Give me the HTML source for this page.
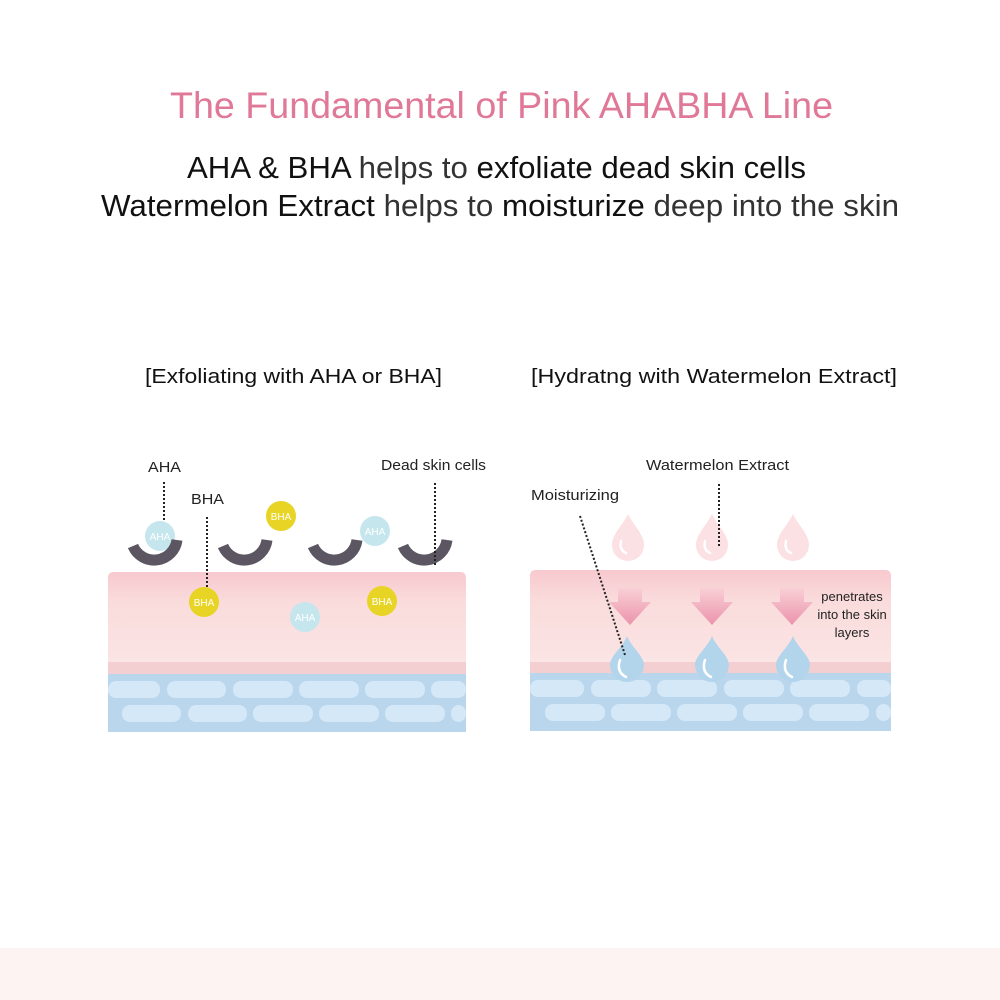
<!DOCTYPE html>
<html><head><meta charset="utf-8"><style>
html,body{margin:0;padding:0;background:#fff}
svg{display:block}
text{font-family:"Liberation Sans",sans-serif}
</style></head><body>
<svg width="1000" height="1000" viewBox="0 0 1000 1000" xmlns="http://www.w3.org/2000/svg">
<defs>
<linearGradient id="pk" x1="0" y1="0" x2="0" y2="1">
<stop offset="0" stop-color="#f7c9cf"/><stop offset="0.35" stop-color="#fadcdc"/><stop offset="1" stop-color="#fbe4e4"/>
</linearGradient>
<linearGradient id="ar" x1="0" y1="0" x2="0" y2="1">
<stop offset="0" stop-color="#f8d0d6"/><stop offset="1" stop-color="#ec93ab"/>
</linearGradient>
</defs>
<rect x="0" y="948" width="1000" height="52" fill="#fdf3f3"/>
<text x="170" y="118" font-size="37" fill="#e07898" textLength="663" lengthAdjust="spacingAndGlyphs">The Fundamental of Pink AHABHA Line</text>
<text x="187" y="178" font-size="31" fill="#111" textLength="619" lengthAdjust="spacingAndGlyphs">AHA &amp; BHA <tspan fill="#333">helps to</tspan> exfoliate dead skin cells</text>
<text x="101" y="216" font-size="31" fill="#111" textLength="798" lengthAdjust="spacingAndGlyphs">Watermelon Extract <tspan fill="#333">helps to</tspan> moisturize <tspan fill="#333">deep into the skin</tspan></text>
<text x="145" y="383" font-size="20" fill="#111" textLength="297" lengthAdjust="spacingAndGlyphs">[Exfoliating with AHA or BHA]</text>
<text x="531" y="383" font-size="20" fill="#111" textLength="366" lengthAdjust="spacingAndGlyphs">[Hydratng with Watermelon Extract]</text>

<!-- LEFT -->
<g>
<path d="M108 578 Q108 572 114 572 L460 572 Q466 572 466 578 L466 662 L108 662Z" fill="url(#pk)"/>
<rect x="108" y="662" width="358" height="12" fill="#f3cfd2"/>
<rect x="108" y="674" width="358" height="58" fill="#b9d6ec"/>
<g fill="#d5e8f7">
<rect x="108" y="681" width="52" height="17" rx="8"/><rect x="167" y="681" width="59" height="17" rx="8"/><rect x="233" y="681" width="60" height="17" rx="8"/><rect x="299" y="681" width="60" height="17" rx="8"/><rect x="365" y="681" width="60" height="17" rx="8"/><rect x="431" y="681" width="35" height="17" rx="8"/>
<rect x="122" y="705" width="59" height="17" rx="8"/><rect x="188" y="705" width="59" height="17" rx="8"/><rect x="253" y="705" width="60" height="17" rx="8"/><rect x="319" y="705" width="60" height="17" rx="8"/><rect x="385" y="705" width="60" height="17" rx="8"/><rect x="451" y="705" width="15" height="17" rx="8"/>
</g>
<circle cx="160" cy="536" r="15" fill="#c6e6ee"/>
<g fill="none" stroke="#5b5661" stroke-width="11">
<path d="M133 546 A23 23 0 0 0 177 540"/>
<path d="M223 546 A23 23 0 0 0 267 540"/>
<path d="M313 546 A23 23 0 0 0 357 540"/>
<path d="M403 546 A23 23 0 0 0 447 540"/>
</g>
<circle cx="375" cy="531" r="15" fill="#c6e6ee"/>
<circle cx="281" cy="516" r="15" fill="#e8d424"/>
<circle cx="204" cy="602" r="15" fill="#e8d424"/>
<circle cx="382" cy="601" r="15" fill="#e8d424"/>
<circle cx="305" cy="617" r="15" fill="#c6e6ee"/>
<g font-size="10" fill="#fff" text-anchor="middle">
<text x="160" y="540">AHA</text><text x="375" y="535">AHA</text><text x="305" y="621">AHA</text>
<text x="281" y="520">BHA</text><text x="204" y="606">BHA</text><text x="382" y="605">BHA</text>
</g>
<g stroke="#222" stroke-width="2" stroke-dasharray="2 2">
<line x1="164" y1="482" x2="164" y2="520"/>
<line x1="207" y1="517" x2="207" y2="588"/>
<line x1="435" y1="483" x2="435" y2="565"/>
</g>
<g font-size="15" fill="#222">
<text x="148" y="472" textLength="33" lengthAdjust="spacingAndGlyphs">AHA</text>
<text x="191" y="504" textLength="33" lengthAdjust="spacingAndGlyphs">BHA</text>
<text x="381" y="470" textLength="105" lengthAdjust="spacingAndGlyphs">Dead skin cells</text>
</g>
</g>

<!-- RIGHT -->
<g>
<path d="M530 576 Q530 570 536 570 L885 570 Q891 570 891 576 L891 662 L530 662Z" fill="url(#pk)"/>
<rect x="530" y="662" width="361" height="11" fill="#f3cfd2"/>
<rect x="530" y="673" width="361" height="58" fill="#b9d6ec"/>
<g fill="#d5e8f7">
<rect x="530" y="680" width="54" height="17" rx="8"/><rect x="591" y="680" width="60" height="17" rx="8"/><rect x="657" y="680" width="60" height="17" rx="8"/><rect x="724" y="680" width="60" height="17" rx="8"/><rect x="790" y="680" width="60" height="17" rx="8"/><rect x="857" y="680" width="34" height="17" rx="8"/>
<rect x="545" y="704" width="60" height="17" rx="8"/><rect x="611" y="704" width="60" height="17" rx="8"/><rect x="677" y="704" width="60" height="17" rx="8"/><rect x="743" y="704" width="60" height="17" rx="8"/><rect x="809" y="704" width="60" height="17" rx="8"/><rect x="876" y="704" width="15" height="17" rx="8"/>
</g>
<g fill="#fbe0e4">
<path d="M628 514 C633 525 644 534 644 545 A16 16 0 0 1 612 545 C612 534 623 525 628 514Z"/>
<path d="M712 514 C717 525 728 534 728 545 A16 16 0 0 1 696 545 C696 534 707 525 712 514Z"/>
<path d="M793 514 C798 525 809 534 809 545 A16 16 0 0 1 777 545 C777 534 788 525 793 514Z"/>
</g>
<g fill="none" stroke="#fff" stroke-width="2.5" stroke-linecap="round">
<path d="M621 541 Q619 550 626 553"/><path d="M705 541 Q703 550 710 553"/><path d="M786 541 Q784 550 791 553"/>
</g>
<g fill="url(#ar)">
<path d="M618 588 L642 588 L642 602 L651 602 L630 625 L609 602 L618 602Z"/>
<path d="M700 588 L724 588 L724 602 L733 602 L712 625 L691 602 L700 602Z"/>
<path d="M780 588 L804 588 L804 602 L813 602 L792 625 L771 602 L780 602Z"/>
</g>
<g fill="#b3d5ec">
<path d="M627 636 C632 648 644 656 644 665 A17 17 0 0 1 610 665 C610 656 622 648 627 636Z"/>
<path d="M712 636 C717 648 729 656 729 665 A17 17 0 0 1 695 665 C695 656 707 648 712 636Z"/>
<path d="M793 636 C798 648 810 656 810 665 A17 17 0 0 1 776 665 C776 656 788 648 793 636Z"/>
</g>
<g fill="none" stroke="#fff" stroke-width="2.5" stroke-linecap="round">
<path d="M620 660 Q616 672 626 677"/><path d="M705 660 Q701 672 711 677"/><path d="M786 660 Q782 672 792 677"/>
</g>
<g stroke="#222" stroke-width="2" stroke-dasharray="2 2">
<line x1="719" y1="484" x2="719" y2="547"/>
<line x1="580" y1="516" x2="625" y2="655"/>
</g>
<g font-size="15" fill="#222">
<text x="646" y="470" textLength="143" lengthAdjust="spacingAndGlyphs">Watermelon Extract</text>
<text x="531" y="500" textLength="88" lengthAdjust="spacingAndGlyphs">Moisturizing</text>
</g>
<g font-size="13" fill="#222" text-anchor="middle">
<text x="852" y="601">penetrates</text>
<text x="852" y="619">into the skin</text>
<text x="852" y="637">layers</text>
</g>
</g>
</svg>
</body></html>
